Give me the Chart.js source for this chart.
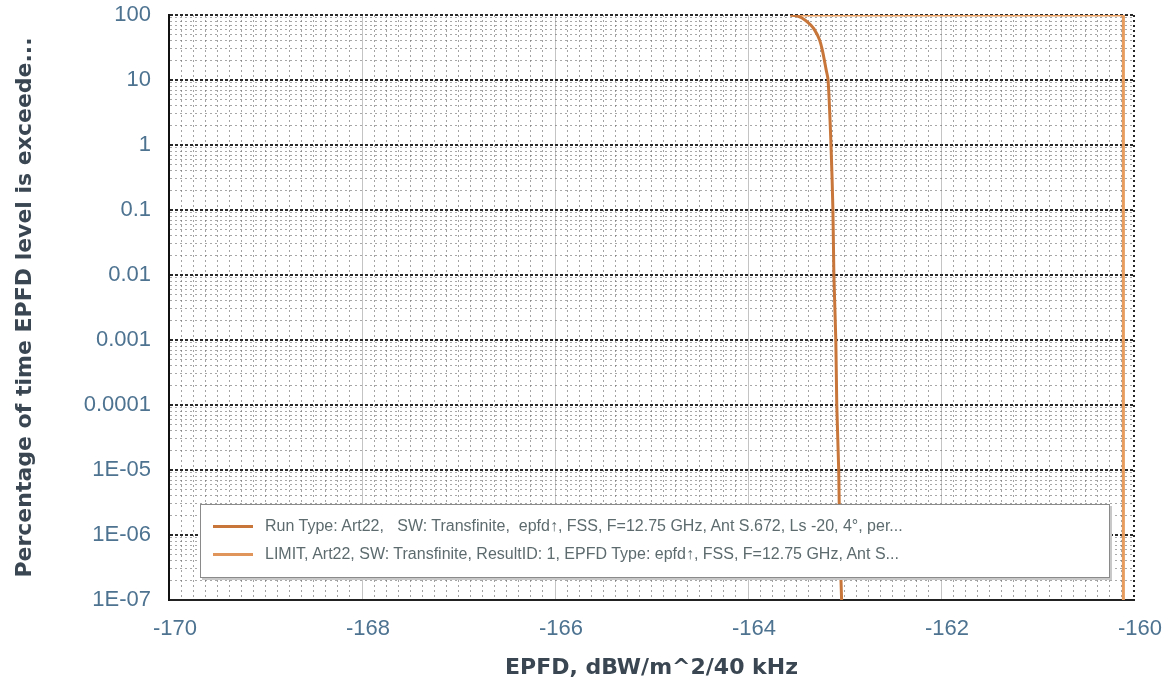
<!DOCTYPE html>
<html>
<head>
<meta charset="utf-8">
<script src="https://cdn.jsdelivr.net/npm/chart.js@4"></script>
<style>
  html, body { margin: 0; padding: 0; background: #fff; }
  #wrap { position: relative; width: 1162px; height: 685px; }
  #legendBox {
    position: absolute; left: 200px; top: 504px; width: 908px; height: 72px;
    background: #fff; border: 1px solid #8a8a8a; box-shadow: 2px 2px 0 #c8c8c8;
    font-family: "Liberation Sans", Arial, sans-serif; font-size: 16px; color: #5d6b6e;
  }
  .row { position: absolute; left: 12px; height: 22px; line-height: 22px; white-space: nowrap; }
  .swatch { display: inline-block; width: 40px; height: 3px; vertical-align: middle; margin-right: 12px; }
</style>
</head>
<body>
<div id="wrap">
  <canvas id="epfdChart" width="1162" height="685"></canvas>
  <div id="legendBox">
    <div class="row" style="top:10px"><span class="swatch" style="background:#c8763a"></span>Run Type: Art22,&nbsp;&nbsp; SW: Transfinite,&nbsp; epfd↑, FSS, F=12.75 GHz, Ant S.672, Ls -20, 4°, per...</div>
    <div class="row" style="top:38px"><span class="swatch" style="background:#e0955a"></span>LIMIT, Art22, SW: Transfinite, ResultID: 1, EPFD Type: epfd↑, FSS, F=12.75 GHz, Ant S...</div>
  </div>
</div>
<script>
const chartCanvas = document.getElementById('epfdChart');

const runX = [-163.56, -163.48, -163.41, -163.35, -163.31, -163.26, -163.23, -163.19, -163.17, -163.14, -163.12, -163.11, -163.09, -163.08, -163.06, -163.05, -163.03];
const runY = [100, 95, 84, 70, 59, 42, 29, 14.3, 10, 1, 0.1, 0.01, 0.001, 1e-4, 1e-5, 1e-6, 1e-7];

const limitX = [-163.56, -160.11, -160.11];
const limitY = [100, 100, 1e-7];

const yTickLabels = ['1E-07', '1E-06', '1E-05', '0.0001', '0.001', '0.01', '0.1', '1', '10', '100'];
const xTickLabels = ['-170', '-168', '-166', '-164', '-162', '-160'];

const toPoints = (xs, ys) => xs.map((x, i) => ({ x, y: ys[i] }));

function isDecade(v) {
  const l = Math.log10(v);
  return Math.abs(l - Math.round(l)) < 1e-9;
}
function isMajorX(v) {
  return Math.abs(v / 2 - Math.round(v / 2)) < 1e-9;
}

new Chart(chartCanvas, {
  type: 'line',
  data: {
    datasets: [
      {
        label: 'Run',
        data: toPoints(runX, runY),
        borderColor: '#c8763a',
        borderWidth: 3,
        pointRadius: 0,
        tension: 0.3,
      },
      {
        label: 'LIMIT',
        data: toPoints(limitX, limitY),
        borderColor: '#e89d5f',
        borderWidth: 3,
        pointRadius: 0,
        tension: 0,
      },
    ],
  },
  options: {
    responsive: false,
    animation: false,
    layout: { padding: { top: 15, right: 28, left: 0, bottom: 0 } },
    plugins: { legend: { display: false }, tooltip: { enabled: false } },
    scales: {
      x: {
        type: 'linear',
        min: -170,
        max: -160,
        afterBuildTicks: (scale) => {
          const ticks = [];
          for (let i = 0; i <= 80; i++) ticks.push({ value: -170 + i * 0.125 });
          scale.ticks = ticks;
        },
        afterFit: (scale) => {
          scale.height = 85;
          scale.paddingLeft = 0;
          scale.paddingRight = 0;
        },
        ticks: {
          autoSkip: false,
          maxRotation: 0,
          padding: 16,
          labelOffset: 6,
          color: '#4d7391',
          font: { family: 'Liberation Sans', size: 22 },
          callback: (v) => {
            const idx = xTickLabels.indexOf(String(Math.round(v)));
            return isMajorX(v) && idx >= 0 ? xTickLabels[idx] : '';
          },
        },
        grid: {
          drawTicks: false,
          color: (ctx) => {
            const v = ctx.tick ? ctx.tick.value : 0;
            if (v === -160) return '#222';
            return isMajorX(v) ? '#c4c4c4' : 'rgba(100,100,100,0.6)';
          },
          lineWidth: (ctx) => (ctx.tick && ctx.tick.value === -160 ? 2 : 1),
        },
        border: {
          display: true,
          color: '#222',
          width: 2,
          dash: (ctx) => {
            const v = ctx.tick ? ctx.tick.value : 0;
            return isMajorX(v) && v !== -160 ? [] : [2, 3];
          },
        },
        title: {
          display: true,
          text: 'EPFD, dBW/m^2/40 kHz',
          color: '#3a4752',
          font: { family: 'DejaVu Sans', size: 22, weight: 'bold' },
          padding: { top: 6 },
        },
      },
      y: {
        type: 'logarithmic',
        min: 1e-7,
        max: 100,
        afterBuildTicks: (scale) => {
          const ticks = [];
          for (let e = -7; e <= 1; e++) {
            for (let m = 1; m <= 9; m++) ticks.push({ value: m * Math.pow(10, e) });
          }
          ticks.push({ value: 100 });
          scale.ticks = ticks;
        },
        afterFit: (scale) => {
          scale.width = 169;
          scale.paddingTop = 0;
          scale.paddingBottom = 0;
        },
        ticks: {
          autoSkip: false,
          padding: 18,
          color: '#4d7391',
          font: { family: 'Liberation Sans', size: 22 },
          callback: (v) => {
            if (!isDecade(v)) return '';
            const idx = Math.round(Math.log10(v)) + 7;
            return yTickLabels[idx];
          },
        },
        grid: {
          drawTicks: false,
          color: (ctx) => {
            const v = ctx.tick ? ctx.tick.value : 1;
            return isDecade(v) ? '#2a2a2a' : 'rgba(110,110,110,0.6)';
          },
          lineWidth: (ctx) => {
            const v = ctx.tick ? ctx.tick.value : 1;
            return isDecade(v) ? 2 : 1;
          },
        },
        border: {
          display: true,
          color: '#111',
          width: 2,
          dash: (ctx) => {
            const v = ctx.tick ? ctx.tick.value : 1;
            return isDecade(v) ? [3, 2] : [2, 3];
          },
        },
        title: {
          display: true,
          text: 'Percentage of time EPFD level is exceede...',
          color: '#3a4752',
          font: { family: 'DejaVu Sans', size: 22, weight: 'bold' },
          padding: { top: 12, bottom: 4 },
        },
      },
    },
  },
});
</script>
</body>
</html>
